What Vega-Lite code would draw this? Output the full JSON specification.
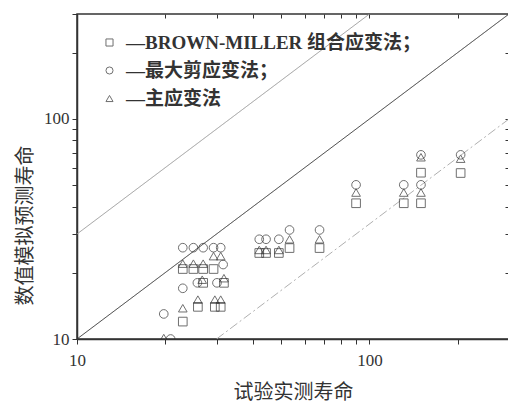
{
  "$schema": "https://vega.github.io/schema/vega-lite/v6.json",
  "width": 432,
  "height": 325,
  "autosize": "none",
  "padding": {"left": 77, "top": 14, "right": 0, "bottom": 64},
  "background": "white",
  "config": {
    "view": {"stroke": "#333", "strokeWidth": 1.5},
    "font": "Liberation Serif, Noto Sans CJK SC",
    "axis": {
      "grid": false,
      "domainColor": "#333",
      "domainWidth": 1.5,
      "tickColor": "#333",
      "tickWidth": 1,
      "labelFont": "Liberation Serif",
      "labelFontSize": 17,
      "labelColor": "#333",
      "titleFont": "Liberation Serif, Noto Sans CJK SC",
      "titleFontSize": 20,
      "titleFontWeight": "normal",
      "titleColor": "#333"
    }
  },
  "datasets": {
    "lines": [
      {"line": "u", "x": 10, "y": 30},
      {"line": "u", "x": 100, "y": 300},
      {"line": "e", "x": 10, "y": 10},
      {"line": "e", "x": 300, "y": 300},
      {"line": "l", "x": 30, "y": 10},
      {"line": "l", "x": 300, "y": 100}
    ],
    "pts": [
      {"m": "B", "x": 23, "y": 20.8},
      {"m": "B", "x": 25, "y": 20.8},
      {"m": "B", "x": 27, "y": 20.8},
      {"m": "B", "x": 29.3, "y": 20.8},
      {"m": "B", "x": 27, "y": 18},
      {"m": "B", "x": 31.8, "y": 18},
      {"m": "B", "x": 25.9, "y": 14},
      {"m": "B", "x": 29.6, "y": 14},
      {"m": "B", "x": 31, "y": 14},
      {"m": "B", "x": 23, "y": 12},
      {"m": "B", "x": 42, "y": 24.6},
      {"m": "B", "x": 44.3, "y": 24.6},
      {"m": "B", "x": 49, "y": 24.6},
      {"m": "B", "x": 53.3, "y": 25.9},
      {"m": "B", "x": 67.5, "y": 25.9},
      {"m": "B", "x": 90, "y": 41.4},
      {"m": "B", "x": 131, "y": 41.4},
      {"m": "B", "x": 150, "y": 41.4},
      {"m": "B", "x": 150, "y": 57},
      {"m": "B", "x": 205, "y": 56.8},
      {"m": "S", "x": 23, "y": 26},
      {"m": "S", "x": 25, "y": 26},
      {"m": "S", "x": 27, "y": 26},
      {"m": "S", "x": 29.3, "y": 26},
      {"m": "S", "x": 31, "y": 26},
      {"m": "S", "x": 31.6, "y": 21.8},
      {"m": "S", "x": 25.8, "y": 18},
      {"m": "S", "x": 30.1, "y": 18},
      {"m": "S", "x": 23, "y": 17},
      {"m": "S", "x": 19.8, "y": 13},
      {"m": "S", "x": 20.9, "y": 10},
      {"m": "S", "x": 42, "y": 28.4},
      {"m": "S", "x": 44.3, "y": 28.4},
      {"m": "S", "x": 49, "y": 28.4},
      {"m": "S", "x": 53.3, "y": 31.3},
      {"m": "S", "x": 67.5, "y": 31.3},
      {"m": "S", "x": 90, "y": 50.2},
      {"m": "S", "x": 131, "y": 50.2},
      {"m": "S", "x": 150, "y": 50.2},
      {"m": "S", "x": 150, "y": 68.7},
      {"m": "S", "x": 205, "y": 68.7},
      {"m": "P", "x": 23, "y": 22},
      {"m": "P", "x": 25, "y": 22},
      {"m": "P", "x": 27, "y": 22},
      {"m": "P", "x": 29.3, "y": 23.8},
      {"m": "P", "x": 31, "y": 23.8},
      {"m": "P", "x": 26.8, "y": 18.6},
      {"m": "P", "x": 31.8, "y": 18.9},
      {"m": "P", "x": 23, "y": 13.8},
      {"m": "P", "x": 25.9, "y": 15.1},
      {"m": "P", "x": 29.6, "y": 15.1},
      {"m": "P", "x": 31, "y": 15.1},
      {"m": "P", "x": 19.8, "y": 10.1},
      {"m": "P", "x": 42, "y": 25.4},
      {"m": "P", "x": 44.3, "y": 25.4},
      {"m": "P", "x": 49, "y": 25.4},
      {"m": "P", "x": 53.3, "y": 28.4},
      {"m": "P", "x": 67.5, "y": 28.4},
      {"m": "P", "x": 90, "y": 46.3},
      {"m": "P", "x": 131, "y": 46.3},
      {"m": "P", "x": 150, "y": 46.3},
      {"m": "P", "x": 150, "y": 67},
      {"m": "P", "x": 205, "y": 66}
    ]
  },
  "layer": [
    {
      "data": {"name": "lines"},
      "mark": {"type": "line", "clip": true, "strokeWidth": 1},
      "encoding": {
        "x": {
          "field": "x", "type": "quantitative",
          "scale": {"type": "log", "domain": [10, 300], "nice": false},
          "axis": {
            "orient": "bottom",
            "title": "试验实测寿命",
            "values": [10, 20, 30, 40, 50, 60, 70, 80, 90, 100, 200, 300],
            "labelExpr": "datum.value == 10 || datum.value == 100 ? datum.value : ''",
            "tickSize": 5,
            "labelPadding": 8,
            "labelFlush": false,
            "labelOverlap": false,
            "titleX": 216,
            "titleY": 53,
            "titleBaseline": "middle",
            "titleAlign": "center"
          }
        },
        "y": {
          "field": "y", "type": "quantitative",
          "scale": {"type": "log", "domain": [10, 300], "nice": false},
          "axis": {
            "orient": "left",
            "title": "数值模拟预测寿命",
            "values": [10, 20, 30, 40, 50, 60, 70, 80, 90, 100, 200, 300],
            "labelExpr": "datum.value == 10 || datum.value == 100 ? datum.value : ''",
            "tickSize": 5,
            "labelPadding": 3,
            "labelFlush": false,
            "labelOverlap": false,
            "titleX": -52,
            "titleY": 211,
            "titleAngle": -90,
            "titleBaseline": "middle",
            "titleAlign": "center"
          }
        },
        "detail": {"field": "line"},
        "color": {"field": "line", "type": "nominal", "legend": null,
          "scale": {"domain": ["u", "e", "l"], "range": ["#9a9a9a", "#333333", "#b0b0b0"]}},
        "strokeDash": {"field": "line", "type": "nominal", "legend": null,
          "scale": {"domain": ["u", "e", "l"], "range": [[1, 0], [1, 0], [9, 3, 2, 3]]}}
      }
    },
    {
      "data": {"name": "pts"},
      "mark": {"type": "point", "filled": false, "clip": true, "stroke": "#333", "strokeWidth": 1, "size": 75},
      "encoding": {
        "x": {
          "field": "x", "type": "quantitative",
          "scale": {"type": "log", "domain": [10, 300], "nice": false},
          "axis": {
            "orient": "top", "title": null, "labels": false, "domain": false,
            "values": [20, 30, 40, 50, 60, 70, 80, 90, 100, 200],
            "tickSize": 4,
            "offset": -4
          }
        },
        "y": {
          "field": "y", "type": "quantitative",
          "scale": {"type": "log", "domain": [10, 300], "nice": false},
          "axis": {
            "orient": "right", "title": null, "labels": false, "domain": false,
            "values": [20, 30, 40, 50, 60, 70, 80, 90, 100, 200],
            "tickSize": 4,
            "offset": -4
          }
        },
        "shape": {
          "field": "m", "type": "nominal",
          "scale": {"domain": ["B", "S", "P"], "range": ["square", "circle", "triangle-up"]},
          "legend": {
            "title": null,
            "orient": "none",
            "legendX": 23,
            "legendY": 19,
            "padding": 0,
            "symbolSize": 50,
            "symbolStrokeColor": "#333",
            "symbolStrokeWidth": 1,
            "symbolFillColor": "transparent",
            "labelFont": "Liberation Serif, Noto Sans CJK SC",
            "labelFontSize": 19,
            "labelFontWeight": "bold",
            "labelColor": "#333",
            "labelOffset": 7,
            "labelLimit": 420,
            "rowPadding": 8,
            "labelExpr": "datum.value == 'B' ? '—BROWN-MILLER 组合应变法；' : datum.value == 'S' ? '—最大剪应变法；' : '—主应变法'"
          }
        }
      }
    }
  ],
  "resolve": {"axis": {"x": "independent", "y": "independent"}}
}
